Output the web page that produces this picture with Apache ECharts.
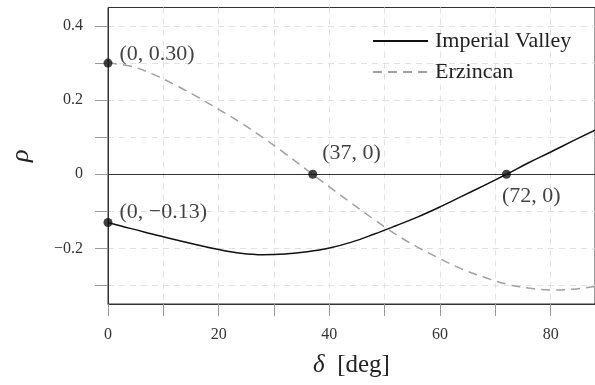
<!DOCTYPE html>
<html>
<head>
    <meta charset="utf-8">
    <title>rho vs delta</title>
    <script src="https://cdn.jsdelivr.net/npm/echarts@6/dist/echarts.min.js"></script>
    <style>
        html, body { margin: 0; padding: 0; background: #fff; }
        #main { width: 595px; height: 385px; }
    </style>
</head>
<body>
    <div id="main"></div>
    <script type="text/javascript">
        // delta in degrees
        var deg = [0, 4, 8, 12, 16, 20, 24, 28, 32, 36, 40, 44, 48, 52, 56, 60, 64, 68, 72, 76, 80, 84, 88];
        var imperialValley = [-0.130, -0.146, -0.161, -0.176, -0.190, -0.203, -0.213, -0.217, -0.215, -0.209,
            -0.199, -0.183, -0.162, -0.139, -0.115, -0.088, -0.059, -0.030, 0.000, 0.031, 0.060, 0.090, 0.119];
        var erzincan = [0.300, 0.292, 0.271, 0.242, 0.210, 0.175, 0.139, 0.099, 0.056, 0.011, -0.034,
            -0.078, -0.121, -0.162, -0.197, -0.228, -0.256, -0.278, -0.296, -0.307, -0.312, -0.310, -0.303];

        // marked points
        var pointX = [0, 0, 37, 72];
        var pointY = [0.30, -0.13, 0, 0];
        var pointText = ['(0, 0.30)', '(0, \u22120.13)', '(37, 0)', '(72, 0)'];

        var xTicks = [0, 10, 20, 30, 40, 50, 60, 70, 80];
        var xLabels = [0, 20, 40, 60, 80];
        var yTicks = [-0.3, -0.2, -0.1, 0, 0.1, 0.2, 0.3, 0.4];
        var yLabels = [-0.2, 0, 0.2, 0.4];

        var serif = '"Liberation Serif", "DejaVu Serif", serif';
        // label offsets for each marked point
        var pointOffset = [[2, -9], [2, -10], [0, -21], [-14, 22]];

        function pairs(xs, ys) {
            return xs.map(function (x, i) { return [x, ys[i]]; });
        }

        var myChart = echarts.init(document.getElementById('main'));

        var option = {
            animation: false,
            grid: {
                left: 107,
                right: -1,
                top: 7.5,
                bottom: 81,
                show: true,
                borderColor: '#333',
                borderWidth: 1
            },
            legend: {
                data: ['Imperial Valley', 'Erzincan'],
                orient: 'vertical',
                left: 372,
                top: 30,
                padding: 0,
                itemWidth: 55,
                itemHeight: 22,
                itemGap: 9,
                itemStyle: { opacity: 0 },
                textStyle: { fontFamily: serif, fontSize: 22, color: '#222', padding: [0, 0, 0, 2] }
            },
            xAxis: {
                type: 'value',
                min: 0,
                max: 88,
                name: '{i|\u03b4}  [deg]',
                nameLocation: 'middle',
                nameGap: 49,
                nameTextStyle: {
                    fontFamily: serif, fontSize: 25, color: '#222',
                    rich: { i: { fontFamily: serif, fontSize: 25, fontStyle: 'italic', color: '#222' } }
                },
                axisLine: { onZero: false, lineStyle: { color: '#333', width: 1 } },
                axisTick: { length: 12, lineStyle: { color: '#999' }, customValues: xTicks },
                axisLabel: {
                    margin: 23,
                    fontFamily: serif, fontSize: 16, color: '#333',
                    customValues: xLabels
                },
                splitLine: { show: true, lineStyle: { color: '#e2e2e2', type: [6, 5] } }
            },
            yAxis: {
                type: 'value',
                min: -0.35,
                max: 0.45,
                name: '\u03c1',
                nameLocation: 'middle',
                nameGap: 74,
                nameTextStyle: { fontFamily: serif, fontSize: 26, fontStyle: 'italic', color: '#222' },
                axisLine: { lineStyle: { color: '#333', width: 1 } },
                axisTick: { length: 13, lineStyle: { color: '#999' }, customValues: yTicks },
                axisLabel: {
                    margin: 25,
                    fontFamily: serif, fontSize: 16, color: '#333',
                    customValues: yLabels,
                    formatter: function (v) {
                        var r = Math.round(v * 10) / 10;
                        if (r === 0) return '0';
                        return (r < 0 ? '\u2212' : '') + Math.abs(r).toFixed(1);
                    }
                },
                splitLine: { show: true, lineStyle: { color: '#e2e2e2', type: [6, 5] } }
            },
            series: [
                {
                    name: 'Imperial Valley',
                    type: 'line',
                    data: pairs(deg, imperialValley),
                    smooth: 0.4,
                    symbol: 'none',
                    lineStyle: { color: '#111', width: 1.5 },
                    itemStyle: { color: '#111' },
                    z: 3,
                    markLine: {
                        silent: true,
                        symbol: 'none',
                        label: { show: false },
                        lineStyle: { color: '#333', width: 1, type: 'solid' },
                        data: [{ yAxis: 0 }]
                    }
                },
                {
                    name: 'Erzincan',
                    type: 'line',
                    data: pairs(deg, erzincan),
                    smooth: 0.4,
                    symbol: 'none',
                    lineStyle: { color: '#a0a0a0', width: 1.5, type: [9, 6] },
                    itemStyle: { color: '#a0a0a0' },
                    z: 3
                },
                {
                    type: 'scatter',
                    symbolSize: 9,
                    itemStyle: { color: '#111' },
                    z: 5,
                    data: pointX.map(function (x, i) {
                        return {
                            value: [x, pointY[i]],
                            label: {
                                show: true,
                                position: 'right',
                                offset: pointOffset[i],
                                formatter: pointText[i],
                                fontFamily: serif,
                                fontSize: 22,
                                color: '#111'
                            }
                        };
                    })
                }
            ]
        };

        myChart.setOption(option);
    </script>
</body>
</html>
